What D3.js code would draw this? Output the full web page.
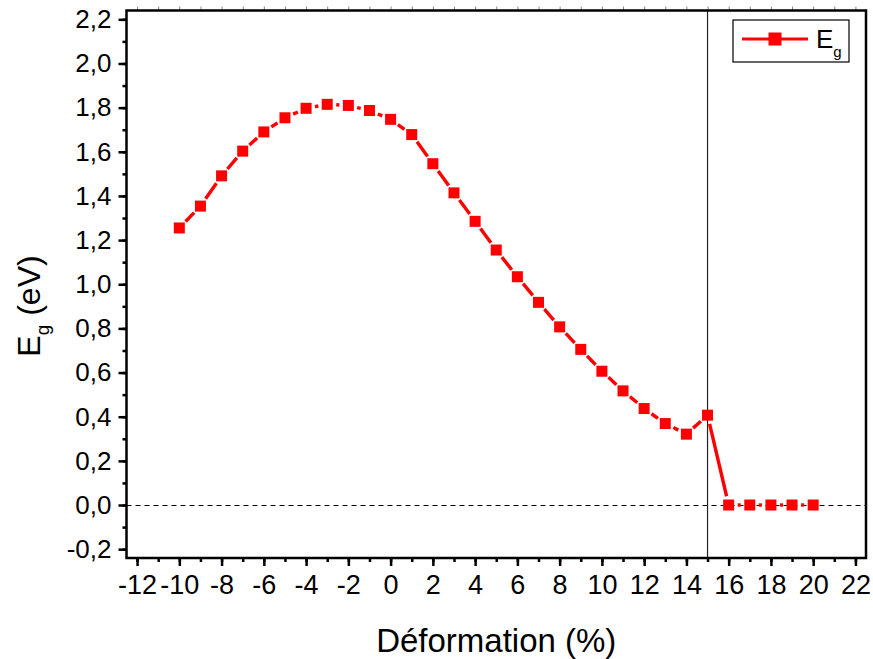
<!DOCTYPE html>
<html>
<head>
<meta charset="utf-8">
<script src="https://cdn.jsdelivr.net/npm/d3@7"></script>
<style>
  body { margin: 0; background: #fff; }
  svg { display: block; }
</style>
</head>
<body>
<div id="chart"></div>
<script>
// strain values (%) and band gap (eV)
const strain = [-10, -9, -8, -7, -6, -5, -4, -3, -2, -1, 0, 1, 2, 3, 4, 5, 6, 7, 8, 9, 10,
                11, 12, 13, 14, 15, 16, 17, 18, 19, 20];
const gap = [1.255, 1.354, 1.491, 1.603, 1.690, 1.754, 1.797, 1.815, 1.810, 1.787, 1.747,
             1.678, 1.546, 1.414, 1.285, 1.155, 1.034, 0.918, 0.807, 0.705, 0.606,
             0.517, 0.437, 0.369, 0.321, 0.407, 0, 0, 0, 0, 0];
const xTicks = d3.range(-12, 23, 2);
const yTicks = d3.range(-0.2, 2.21, 0.2);
const transitionX = 15;

const W = 873, H = 659;
const FONT = '"Liberation Sans", Arial, sans-serif';
const svg = d3.select('#chart').append('svg')
    .attr('width', W)
    .attr('height', H)
    .style('font-family', FONT);

const x = d3.scaleLinear().domain([-12.5, 22.5]).range([126.5, 866]);
const y = d3.scaleLinear().domain([-0.24, 2.24]).range([558, 10.5]);

const fmt = v => d3.format('.1f')(v).replace('.', ',').replace('\u2212', '-');

// minor ticks
svg.append('g')
    .attr('transform', `translate(0, ${y.range()[0]})`)
    .call(d3.axisBottom(x).tickValues(d3.range(-12, 23, 1)).tickSize(4).tickFormat(''))
    .call(g => g.select('.domain').remove())
    .selectAll('line').attr('stroke-width', 2.5);

svg.append('g')
    .attr('transform', `translate(${x.range()[0]}, 0)`)
    .call(d3.axisLeft(y).tickValues(d3.range(-0.2, 2.25, 0.1)).tickSize(4).tickFormat(''))
    .call(g => g.select('.domain').remove())
    .selectAll('line').attr('stroke-width', 2.5);

// faint ticks on top edge
svg.append('g')
    .attr('transform', `translate(0, ${y.range()[1]})`)
    .call(d3.axisTop(x).tickValues(d3.range(-12, 23, 1)).tickSize(4).tickFormat(''))
    .call(g => g.select('.domain').remove())
    .selectAll('line').attr('stroke', '#888').attr('stroke-width', 1);

// major ticks + labels
const xAxis = svg.append('g')
    .attr('transform', `translate(0, ${y.range()[0]})`)
    .call(d3.axisBottom(x).tickValues(xTicks).tickSize(8).tickPadding(9).tickFormat(d => String(d)));
xAxis.select('.domain').remove();
xAxis.selectAll('line').attr('stroke-width', 2.5);
xAxis.selectAll('text').attr('font-size', 27).attr('fill', '#000')
    .style('font-family', FONT);

const yAxis = svg.append('g')
    .attr('transform', `translate(${x.range()[0]}, 0)`)
    .call(d3.axisLeft(y).tickValues(yTicks).tickSize(8).tickPadding(7).tickFormat(fmt));
yAxis.select('.domain').remove();
yAxis.selectAll('line').attr('stroke-width', 2.5);
yAxis.selectAll('text').attr('font-size', 26).attr('fill', '#000')
    .style('font-family', FONT);

// zero line
const y0 = Math.round(y(0)) + 0.5;
svg.append('line')
    .attr('x1', x.range()[0]).attr('x2', x.range()[1])
    .attr('y1', y0).attr('y2', y0)
    .attr('stroke', '#000').attr('stroke-width', 1.2)
    .attr('stroke-dasharray', '5,4');

// transition line at 15 %
svg.append('line')
    .attr('x1', x(transitionX)).attr('x2', x(transitionX))
    .attr('y1', y.range()[1]).attr('y2', y.range()[0])
    .attr('stroke', '#222').attr('stroke-width', 1.2);

// data line, with a small gap to each symbol
const pts = strain.map((s, i) => [x(s), y(gap[i])]);
const segs = d3.pairs(pts).map(([a, b]) => {
    const dx = b[0] - a[0], dy = b[1] - a[1];
    const len = Math.hypot(dx, dy);
    const off = 9;
    return [a[0] + dx * off / len, a[1] + dy * off / len, b[0] - dx * off / len, b[1] - dy * off / len];
});
svg.append('g').selectAll('line')
    .data(segs)
    .enter().append('line')
    .attr('x1', d => d[0]).attr('y1', d => d[1])
    .attr('x2', d => d[2]).attr('y2', d => d[3])
    .attr('stroke', '#ff0000')
    .attr('stroke-width', 3.4);

const ms = 11;
svg.append('g').selectAll('rect')
    .data(pts)
    .enter().append('rect')
    .attr('x', d => d[0] - ms / 2)
    .attr('y', d => d[1] - ms / 2)
    .attr('width', ms).attr('height', ms)
    .attr('fill', '#ff0000');

// frame
svg.append('rect')
    .attr('x', x.range()[0]).attr('y', y.range()[1])
    .attr('width', x.range()[1] - x.range()[0])
    .attr('height', y.range()[0] - y.range()[1])
    .attr('fill', 'none')
    .attr('stroke', '#000')
    .attr('stroke-width', 2.5);

// legend
const leg = svg.append('g');
leg.append('rect')
    .attr('x', 733).attr('y', 20).attr('width', 116).attr('height', 42)
    .attr('fill', '#fff').attr('stroke', '#000').attr('stroke-width', 1.2);
leg.append('line')
    .attr('x1', 742).attr('x2', 808).attr('y1', 39).attr('y2', 39)
    .attr('stroke', '#ff0000').attr('stroke-width', 3.2);
leg.append('rect')
    .attr('x', 775 - 6.5).attr('y', 39 - 6.5).attr('width', 13).attr('height', 13)
    .attr('fill', '#ff0000');
const legText = leg.append('text')
    .attr('x', 816).attr('y', 48)
    .attr('font-size', 26);
legText.append('tspan').text('E');
legText.append('tspan').attr('font-size', 15).attr('dy', 9).text('g');

// axis titles
svg.append('text')
    .attr('x', (x.range()[0] + x.range()[1]) / 2)
    .attr('y', 652)
    .attr('text-anchor', 'middle')
    .attr('font-size', 33)
    .text('Déformation (%)');

const yt = svg.append('text')
    .attr('transform', `translate(40, 306) rotate(-90)`)
    .attr('text-anchor', 'middle')
    .attr('font-size', 32);
yt.append('tspan').text('E');
yt.append('tspan').attr('font-size', 19).attr('dy', 9).text('g');
yt.append('tspan').attr('dy', -9).text(' (eV)');
</script>
</body>
</html>
